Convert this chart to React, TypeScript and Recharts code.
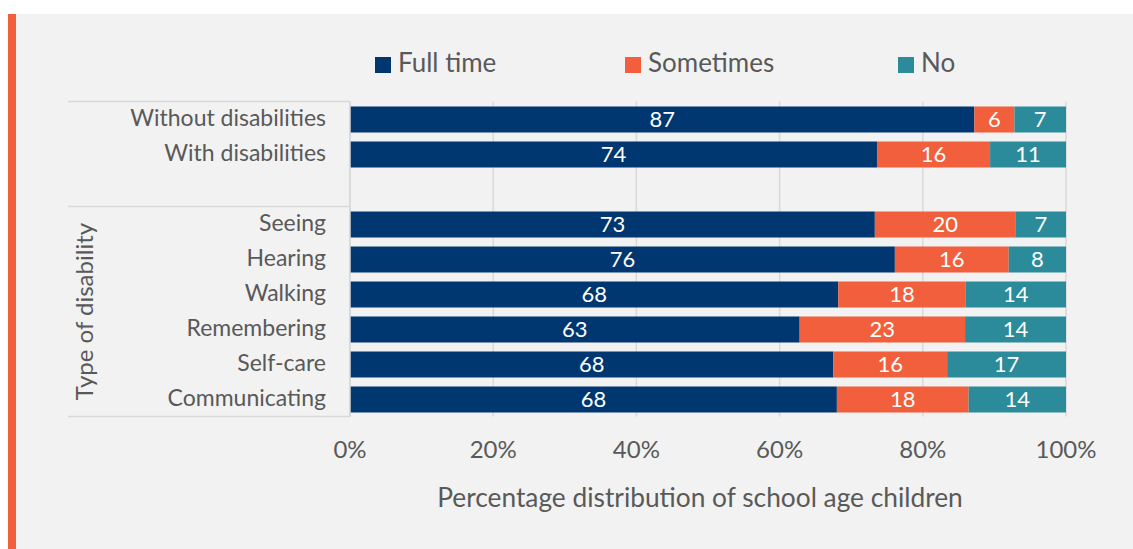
import React from 'react';
import { BarChart, Bar, XAxis, YAxis, CartesianGrid, LabelList } from 'recharts';

const categories = ['Without disabilities', 'With disabilities', '', 'Seeing', 'Hearing', 'Walking', 'Remembering', 'Self-care', 'Communicating'];
const fullTime = [87.2, 73.6, null, 73.3, 76.1, 68.2, 62.8, 67.5, 68.0];
const sometimes = [5.6, 15.8, null, 19.7, 15.9, 17.8, 23.1, 15.9, 18.4];
const noValues = [7.2, 10.6, null, 7.0, 8.0, 14.0, 14.1, 16.6, 13.6];
const xTicks = [0, 20, 40, 60, 80, 100];
const seriesNames = ['Full time', 'Sometimes', 'No'];
const seriesColors = ['#003770', '#F15F3C', '#2B8B9B'];
const groupLabel = 'Type of disability';
const xTitle = 'Percentage distribution of school age children';

const data = categories.map((name, i) => ({
  name,
  ft: fullTime[i],
  so: sometimes[i],
  no: noValues[i],
}));
const keys = ['ft', 'so', 'no'];

const FONT = 'Lato, sans-serif';
const TEXT = '#595959';
const LINE = '#d9d9d9';

const legendX = [375, 625, 898];

const LegendOverlay = () => (
  <svg width={1133} height={100} style={{ position: 'absolute', left: 0, top: 0, display: 'block' }}>
    {seriesNames.map((n, i) => (
      <g key={n}>
        <rect x={legendX[i]} y={57} width={16} height={16} fill={seriesColors[i]} />
        <text x={legendX[i] + 23} y={72} fontSize={26} fill={TEXT} fontFamily={FONT}>{n}</text>
      </g>
    ))}
  </svg>
);

const YTick = (props: any) => {
  const { x, y, payload, index } = props;
  const last = categories.length - 1;
  const half = 17.5;
  return (
    <g>
      <text x={x - 24} y={y + 7} textAnchor="end" fontSize={23} fill={TEXT} fontFamily={FONT}>{payload.value}</text>
      {index === 0 && <line x1={68} x2={x} y1={y - half} y2={y - half} stroke={LINE} strokeWidth={1.5} />}
      {index === 2 && <line x1={68} x2={x} y1={y + half} y2={y + half} stroke={LINE} strokeWidth={1.5} />}
      {index === last && <line x1={68} x2={x} y1={y + half} y2={y + half} stroke={LINE} strokeWidth={1.5} />}
      {index === last && (
        <text x={93} y={y - 87.5} transform={`rotate(-90 93 ${y - 87.5})`} textAnchor="middle" fontSize={24} fill={TEXT} fontFamily={FONT}>{groupLabel}</text>
      )}
    </g>
  );
};

const fmt = (v: any) => (v === null || v === undefined ? '' : String(Math.round(Number(v))));

const XTitle = (props: any) => {
  const vb = props.viewBox || {};
  return (
    <text x={vb.x + vb.width / 2 - 8} y={vb.y + 90.5} textAnchor="middle" fontSize={26.3} fill={TEXT} fontFamily={FONT}>{xTitle}</text>
  );
};

export default function App() {
  return (
    <div style={{ position: 'absolute', left: 0, top: 0, width: 1133, height: 549, background: '#ffffff', overflow: 'hidden' }}>
      <div style={{ position: 'absolute', left: 8, top: 14, width: 8, height: 535, background: '#F15F3C' }} />
      <div style={{ position: 'absolute', left: 16, top: 14, width: 1117, height: 535, background: '#f2f2f2' }} />
      <LegendOverlay />
      <div style={{ position: 'absolute', left: 0, top: 0 }}>
        <BarChart
          width={1133}
          height={549}
          data={data}
          layout="vertical"
          barSize={26}
          margin={{ top: 101.5, right: 67, bottom: 32.5, left: 70 }}
        >
          <CartesianGrid horizontal={false} vertical stroke={LINE} strokeWidth={1.5} />
          <XAxis
            type="number"
            domain={[0, 100]}
            ticks={xTicks}
            allowDataOverflow
            tickFormatter={(v: number) => `${v}%`}
            axisLine={false}
            tickLine={false}
            tickSize={0}
            tickMargin={24.5}
            height={100}
            tick={{ fill: TEXT, fontSize: 24, fontFamily: FONT }}
            label={<XTitle />}
          />
          <YAxis
            type="category"
            dataKey="name"
            width={280}
            axisLine={{ stroke: LINE, strokeWidth: 1.5 }}
            tickLine={false}
            tickSize={0}
            tickMargin={0}
            interval={0}
            tick={<YTick />}
          />
          {keys.map((k, i) => (
            <Bar key={k} dataKey={k} name={seriesNames[i]} stackId="a" fill={seriesColors[i]} isAnimationActive={false}>
              <LabelList dataKey={k} position="center" formatter={fmt} fill="#ffffff" fontSize={22} fontFamily={FONT} />
            </Bar>
          ))}
        </BarChart>
      </div>
    </div>
  );
}
